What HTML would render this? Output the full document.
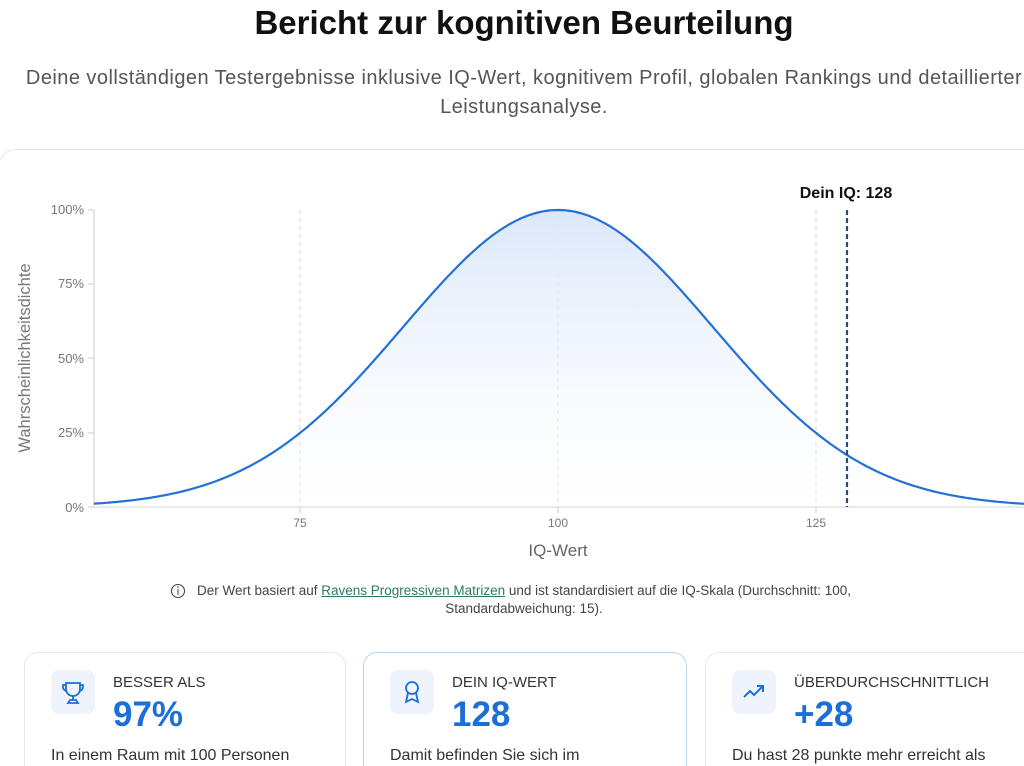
<!DOCTYPE html>
<html><head><meta charset="utf-8"><style>
html,body{margin:0;width:1024px;height:766px;overflow:hidden}
body{background:#fff;font-family:"Liberation Sans",sans-serif;position:relative}
.t{position:absolute;left:0;width:1048px;text-align:center;top:4px;font-size:33px;font-weight:bold;color:#111}
.s{position:absolute;left:0;width:1048px;text-align:center;top:64px;font-size:20px;letter-spacing:0.45px;line-height:29px;color:#555;white-space:nowrap}
.panel{position:absolute;left:-2px;top:149px;width:1100px;height:700px;border:1px solid #e5e7eb;border-radius:18px}
.note{position:absolute;left:0;width:1048px;text-align:center;top:582px;font-size:13.5px;line-height:18px;color:#444}
.note a{color:#2b7a6a;text-decoration:underline}
.card{position:absolute;top:652px;height:140px;border:1px solid #e5e7eb;border-radius:14px;background:#fff}
.ic{position:absolute;left:26px;top:17px;width:44px;height:44px;background:#eef3fc;border-radius:8px}
.lb{position:absolute;left:88px;top:21px;font-size:15px;color:#333}
.nm{position:absolute;left:88px;top:42px;font-size:35px;font-weight:bold;color:#1b6fd6}
.bd{position:absolute;left:26px;top:94px;font-size:16px;color:#333;white-space:nowrap}
</style></head><body>
<div class="t">Bericht zur kognitiven Beurteilung</div>
<div class="s">Deine vollständigen Testergebnisse inklusive IQ-Wert, kognitivem Profil, globalen Rankings und detaillierter<br>Leistungsanalyse.</div>
<div class="panel"></div>
<svg style="position:absolute;left:0;top:0" width="1024" height="640">
<defs><linearGradient id="g" x1="0" y1="0" x2="0" y2="1"><stop offset="0" stop-color="#dbe7fa"/><stop offset="1" stop-color="#fff" stop-opacity="0.3"/></linearGradient></defs>
<g font-family="Liberation Sans" font-size="13" fill="#777" text-anchor="end">
<text x="84" y="214">100%</text><text x="84" y="288">75%</text><text x="84" y="363">50%</text><text x="84" y="437">25%</text><text x="84" y="512">0%</text></g>
<g stroke="#ccc"><line x1="94" y1="210" x2="94" y2="507"/><line x1="94" y1="507" x2="1024" y2="507"/>
<line x1="88" y1="210" x2="94" y2="210"/><line x1="88" y1="284" x2="94" y2="284"/><line x1="88" y1="358" x2="94" y2="358"/><line x1="88" y1="433" x2="94" y2="433"/><line x1="88" y1="507" x2="94" y2="507"/>
<line x1="300" y1="507" x2="300" y2="513"/><line x1="558" y1="507" x2="558" y2="513"/><line x1="816" y1="507" x2="816" y2="513"/></g>
<g stroke="#ccd3dc" stroke-dasharray="4 4"><line x1="300" y1="210" x2="300" y2="507"/><line x1="558" y1="210" x2="558" y2="507"/><line x1="816" y1="210" x2="816" y2="507"/></g>
<path id="fill" fill="url(#g)"/><path id="curve" fill="none" stroke="#2471d6" stroke-width="2.2"/>
<line x1="847" y1="210" x2="847" y2="507" stroke="#2b4a75" stroke-width="2.2" stroke-dasharray="5 3"/>
<text x="846" y="198" font-family="Liberation Sans" font-size="16" font-weight="bold" fill="#111" text-anchor="middle">Dein IQ: 128</text>
<g font-family="Liberation Sans" font-size="12" fill="#777" text-anchor="middle"><text x="300" y="527">75</text><text x="558" y="527">100</text><text x="816" y="527">125</text></g>
<text x="558" y="556" font-family="Liberation Sans" font-size="17" fill="#666" text-anchor="middle">IQ-Wert</text>
<text transform="translate(30,358) rotate(-90)" font-family="Liberation Sans" font-size="16.5" fill="#777" text-anchor="middle">Wahrscheinlichkeitsdichte</text>
<circle cx="178" cy="591" r="6.5" fill="none" stroke="#444" stroke-width="1.1"/><line x1="178" y1="589" x2="178" y2="595" stroke="#444"/><circle cx="178" cy="587" r="0.8" fill="#444"/>
</svg>
<script>
var d="",x;for(x=94;x<=1024;x+=2){var iq=100+(x-558)/10.32;var y=507-297*Math.exp(-Math.pow((iq-100)/15,2)/2);d+=(d?"L":"M")+x+","+y.toFixed(1);}
document.getElementById("curve").setAttribute("d",d);document.getElementById("fill").setAttribute("d",d+"L1024,507L94,507Z");
</script>
<div class="note">Der Wert basiert auf <a>Ravens Progressiven Matrizen</a> und ist standardisiert auf die IQ-Skala (Durchschnitt: 100,<br>Standardabweichung: 15).</div>
<div class="card" style="left:24px;width:320px"><div class="ic"><svg width="44" height="44"><g fill="none" stroke="#1b6fd6" stroke-width="1.8"><path d="M15 13h14v6a7 7 0 0 1-14 0z"/><path d="M15 15h-3v2a4 4 0 0 0 4 4M29 15h3v2a4 4 0 0 1-4 4"/><path d="M22 26v4M17 33h10l-2-3h-6z"/></g></svg></div><div class="lb">BESSER ALS</div><div class="nm">97%</div><div class="bd">In einem Raum mit 100 Personen</div></div>
<div class="card" style="left:363px;width:322px;border-color:#bcd3ec"><div class="ic"><svg width="44" height="44"><g fill="none" stroke="#1b6fd6" stroke-width="1.8"><circle cx="22" cy="18" r="6"/><path d="M18 23l-2 9 6-3 6 3-2-9"/></g></svg></div><div class="lb">DEIN IQ-WERT</div><div class="nm">128</div><div class="bd">Damit befinden Sie sich im</div></div>
<div class="card" style="left:705px;width:340px"><div class="ic"><svg width="44" height="44"><g fill="none" stroke="#1b6fd6" stroke-width="2"><path d="M12 27l6-6 4 4 9-9M25 16h6v6"/></g></svg></div><div class="lb">ÜBERDURCHSCHNITTLICH</div><div class="nm">+28</div><div class="bd">Du hast 28 punkte mehr erreicht als</div></div>
</body></html>
